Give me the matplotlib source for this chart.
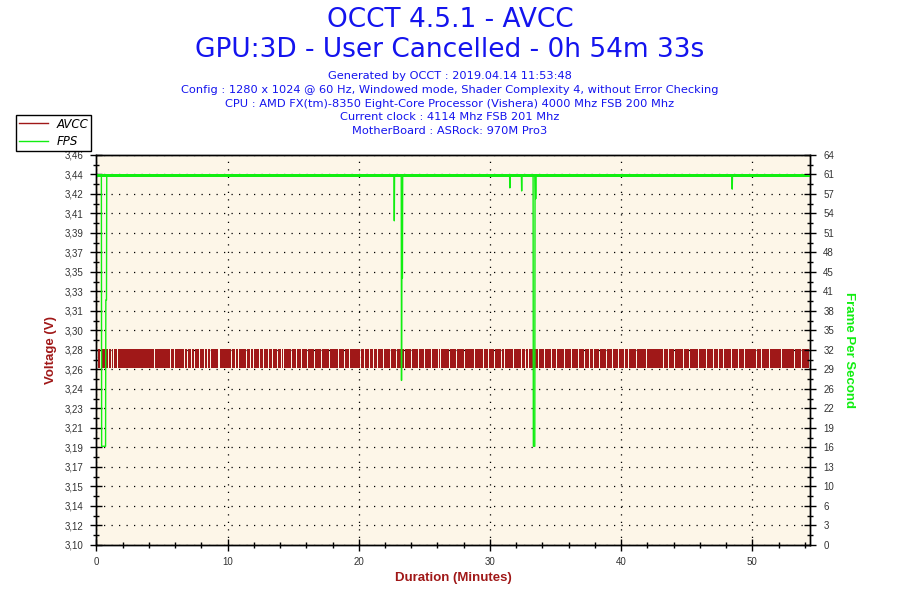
import matplotlib.pyplot as plt
from matplotlib.ticker import FixedLocator, MultipleLocator

# --- values ---
# AVCC toggles between two levels all run long (volts)
avcc_low = 3.263
avcc_high = 3.281
avcc_start = 0.15
avcc_end = 54.3
# minutes where the AVCC trace leaves a gap in the band
avcc_gaps = [0.30, 0.47, 0.62, 0.91, 1.12, 1.30, 1.58, 4.37, 5.61, 5.90, 6.66, 6.91,
             7.22, 7.47, 7.80, 8.23, 8.41, 8.64, 9.25, 9.37, 10.27, 10.57, 10.82,
             11.41, 11.69, 11.92, 12.40, 12.68, 13.11, 13.36, 13.77, 14.08, 14.20,
             14.84, 15.22, 15.60, 16.06, 16.62, 17.13, 17.76, 18.39, 18.85, 19.28,
             20.12, 20.43, 20.81, 21.06, 21.39, 21.82, 22.41, 22.84, 23.48, 23.98,
             24.49, 25.00, 25.51, 26.02, 26.22, 26.91, 27.41, 28.05, 28.81, 29.45,
             29.83, 30.34, 30.84, 31.10, 31.73, 32.37, 32.67, 32.88, 33.64, 34.15,
             34.65, 35.04, 35.67, 36.18, 36.74, 37.20, 37.58, 37.83, 38.34, 38.85,
             39.28, 39.79, 40.24, 40.50, 41.13, 41.89, 43.17, 43.55, 44.05, 44.69,
             45.20, 45.88, 46.47, 46.98, 47.36, 47.74, 48.37, 48.88, 49.39, 49.64,
             50.28, 50.66, 51.30, 52.19, 53.20, 53.71]

# FPS trace (minutes, frames per second)
fps_time = [0.05, 0.38, 0.40, 0.70, 0.72, 0.77, 0.79,
            22.69, 22.71, 22.73,
            23.24, 23.26, 23.28, 23.33, 23.35,
            31.50, 31.52, 31.54,
            32.40, 32.42, 32.44,
            33.29, 33.31, 33.42, 33.44, 33.47, 33.49, 33.51,
            48.45, 48.47, 48.49,
            54.55]
fps_value = [60.6, 60.6, 16.2, 16.2, 40.2, 40.2, 60.6,
             60.6, 53.2, 60.6,
             60.6, 27.0, 43.8, 43.8, 60.6,
             60.6, 58.6, 60.6,
             60.6, 58.1, 60.6,
             60.6, 16.2, 16.2, 60.6, 60.6, 56.8, 60.6,
             60.6, 58.4, 60.6,
             60.6]
fps_noise = (60.35, 60.85)

volt_ticks = ['3,10', '3,12', '3,14', '3,15', '3,17', '3,19', '3,21', '3,23', '3,24', '3,26',
              '3,28', '3,30', '3,31', '3,33', '3,35', '3,37', '3,39', '3,41', '3,42', '3,44', '3,46']
fps_ticks = ['0', '3', '6', '10', '13', '16', '19', '22', '26', '29', '32', '35', '38', '41',
             '45', '48', '51', '54', '57', '61', '64']

header = ['Generated by OCCT : 2019.04.14 11:53:48',
          'Config : 1280 x 1024 @ 60 Hz, Windowed mode, Shader Complexity 4, without Error Checking',
          'CPU : AMD FX(tm)-8350 Eight-Core Processor (Vishera) 4000 Mhz FSB 200 Mhz',
          'Current clock : 4114 Mhz FSB 201 Mhz',
          'MotherBoard : ASRock: 970M Pro3']

red = '#A01818'
green = '#11EE11'
blue = '#1414EE'
bg = '#FDF6E8'
gap_w = 0.07  # one pixel, in minutes

fig = plt.figure(figsize=(9, 6), dpi=100)
ax = fig.add_axes([0.1071, 0.0917, 0.9 - 0.1071, 0.7417 - 0.0917])
ax.set_facecolor(bg)

fig.text(0.5, 1 - 20 / 600, 'OCCT 4.5.1 - AVCC', ha='center', va='center',
         fontsize=19, color=blue, family='DejaVu Sans')
fig.text(0.5, 1 - 50 / 600, 'GPU:3D - User Cancelled - 0h 54m 33s', ha='center', va='center',
         fontsize=19, color=blue, family='DejaVu Sans')
for i, line in enumerate(header):
    fig.text(0.5, 1 - (76 + 13.8 * i) / 600, line, ha='center', va='center',
             fontsize=8.2, color=blue, family='DejaVu Sans')

# voltage band, broken where the trace sat on one level
edges = [avcc_start] + avcc_gaps + [avcc_end]
segs = []
for i in range(len(edges) - 1):
    x0 = edges[i] + (gap_w if i > 0 else 0)
    segs.append((x0, edges[i + 1] - x0))
ax.broken_barh(segs, (avcc_low, avcc_high - avcc_low), facecolors=red, lw=0, zorder=2)

ax.set_xlim(0, 54.4)
ax.set_ylim(3.10, 3.46)
ax.yaxis.set_major_locator(FixedLocator([3.10 + 0.018 * k for k in range(21)]))
ax.yaxis.set_minor_locator(FixedLocator([3.109 + 0.018 * k for k in range(20)]))
ax.set_yticklabels(volt_ticks)
ax.xaxis.set_major_locator(MultipleLocator(10))
ax.xaxis.set_minor_locator(MultipleLocator(2))
ax.grid(True, which='major', color='black', linestyle=(0, (1, 5)), lw=0.9, zorder=1)
ax.set_axisbelow(True)

ax2 = ax.twinx()
ax2.set_ylim(0, 64)
ax2.yaxis.set_major_locator(FixedLocator([3.2 * k for k in range(21)]))
ax2.yaxis.set_minor_locator(FixedLocator([1.6 + 3.2 * k for k in range(20)]))
ax2.set_yticklabels(fps_ticks)
ax2.fill_between([fps_time[0], fps_time[-1]], fps_noise[0], fps_noise[1], color=green, lw=0)
ax2.plot(fps_time, fps_value, color=green, lw=1.0)

for a in (ax, ax2):
    a.tick_params(which='major', direction='inout', length=9, width=1, labelsize=7,
                  labelcolor='#333333', labelfontfamily='Liberation Sans')
    a.tick_params(which='minor', direction='inout', length=5, width=1)
    for s in a.spines.values():
        s.set_linewidth(1)
ax.tick_params(axis='x', pad=4)
ax.tick_params(axis='y', pad=5)
ax2.tick_params(axis='y', pad=5)

ax.set_xlabel('Duration (Minutes)', color=red, fontsize=9.5, fontweight='bold',
              family='Liberation Sans', labelpad=4)
ax.set_ylabel('Voltage (V)', color=red, fontsize=9.5, fontweight='bold',
              family='Liberation Sans', labelpad=5)
ax2.set_ylabel('Frame Per Second', color=green, fontsize=9.5, fontweight='bold',
               family='Liberation Sans', rotation=270, labelpad=15)

h1, = ax.plot([], [], color=red, lw=1, label='AVCC')
h2, = ax.plot([], [], color=green, lw=1, label='FPS')
leg = fig.legend(handles=[h1, h2], loc='upper left', bbox_to_anchor=(16 / 900, 1 - 115 / 600),
                 bbox_transform=fig.transFigure, fancybox=False, framealpha=1,
                 edgecolor='black', borderaxespad=0, handlelength=2.5, handletextpad=0.7,
                 borderpad=0.22, labelspacing=0.38,
                 prop={'family': 'DejaVu Sans', 'style': 'italic', 'size': 8.5})
leg.get_frame().set_linewidth(1)

fig.savefig('out.png', dpi=100)
